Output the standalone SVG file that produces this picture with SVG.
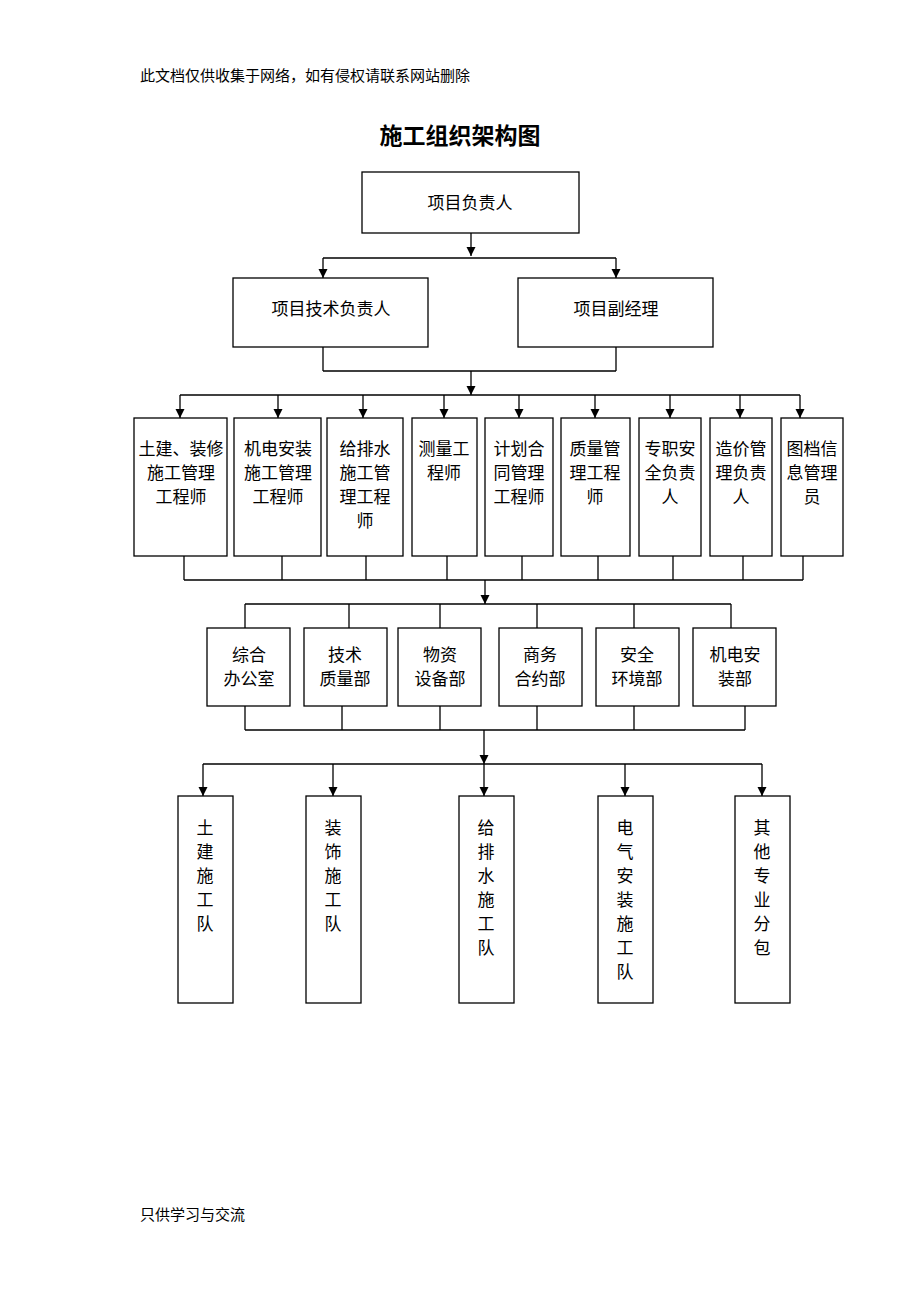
<svg xmlns="http://www.w3.org/2000/svg" width="920" height="1302" viewBox="0 0 920 1302">
<style>
text{font-family:"Liberation Serif","Noto Sans CJK SC",serif;font-size:17px;fill:#000;text-anchor:middle}
.b{fill:#fff;stroke:#000;stroke-width:1.3}
.bt{fill:none;stroke:#000;stroke-width:1.3}
.l{fill:none;stroke:#000;stroke-width:1.3}
</style>
<defs>
<marker id="d" viewBox="0 0 10 10" markerWidth="9" markerHeight="10" refX="10" refY="5" orient="auto" markerUnits="userSpaceOnUse"><path d="M0,0 L10,5 L0,10 z" fill="#000"/></marker></defs>
<rect width="920" height="1302" fill="#fff"/>
<text x="140" y="81" style="text-anchor:start;font-size:15px">此文档仅供收集于网络，如有侵权请联系网站删除</text>
<text x="460" y="144" style="font-size:23px;font-weight:bold">施工组织架构图</text>
<g id="connectors" class="l">
<path d="M471,233V256" marker-end="url(#d)"/>
<path d="M323,258H616"/><path d="M323,258V278" marker-end="url(#d)"/><path d="M616,258V278" marker-end="url(#d)"/>
<path d="M323,347V371M616,347V371M323,371H616"/><path d="M471,371V395" marker-end="url(#d)"/>
<path d="M180,395H800"/>
<path d="M180,395V418" marker-end="url(#d)"/><path d="M278,395V418" marker-end="url(#d)"/><path d="M363,395V418" marker-end="url(#d)"/><path d="M444,395V418" marker-end="url(#d)"/><path d="M519,395V418" marker-end="url(#d)"/><path d="M595,395V418" marker-end="url(#d)"/><path d="M670,395V418" marker-end="url(#d)"/><path d="M740,395V418" marker-end="url(#d)"/><path d="M800,395V418" marker-end="url(#d)"/>
<path d="M184,556V580M282,556V580M366,556V580M447,556V580M522,556V580M598,556V580M673,556V580M743,556V580M803,556V580M184,580H803"/>
<path d="M485,580V604" marker-end="url(#d)"/>
<path d="M245,604H731M245,604V628M349,604V628M440,604V628M537,604V628M634,604V628M731,604V628"/>
<path d="M245,706V730M342,706V730M440,706V730M537,706V730M634,706V730M745,706V730M245,730H745"/>
<path d="M484,730V764" marker-end="url(#d)"/>
<path d="M203,764H762"/>
<path d="M203,764V796" marker-end="url(#d)"/><path d="M333,764V796" marker-end="url(#d)"/><path d="M484,764V796" marker-end="url(#d)"/><path d="M625,764V796" marker-end="url(#d)"/><path d="M762,764V796" marker-end="url(#d)"/>
</g>
<g id="n1"><rect class="b" x="362" y="172" width="217" height="61"/><text x="470" y="209">项目负责人</text></g>
<g id="n2"><rect class="b" x="233" y="278" width="195" height="69"/><text x="331" y="315">项目技术负责人</text></g>
<g id="n3"><rect class="b" x="518" y="278" width="195" height="69"/><text x="616" y="315">项目副经理</text></g>
<g id="r1"><rect class="b" x="134" y="418" width="93" height="138"/><text x="181" y="455">土建、装修</text><text x="181" y="479">施工管理</text><text x="181" y="503">工程师</text></g>
<g id="r2"><rect class="b" x="234" y="418" width="87" height="138"/><text x="278" y="455">机电安装</text><text x="278" y="479">施工管理</text><text x="278" y="503">工程师</text></g>
<g id="r3"><rect class="b" x="327" y="418" width="76" height="138"/><text x="365" y="455">给排水</text><text x="365" y="479">施工管</text><text x="365" y="503">理工程</text><text x="365" y="527">师</text></g>
<g id="r4"><rect class="b" x="412" y="418" width="65" height="138"/><text x="444" y="455">测量工</text><text x="444" y="479">程师</text></g>
<g id="r5"><rect class="b" x="485" y="418" width="68" height="138"/><text x="519" y="455">计划合</text><text x="519" y="479">同管理</text><text x="519" y="503">工程师</text></g>
<g id="r6"><rect class="b" x="561" y="418" width="69" height="138"/><text x="595" y="455">质量管</text><text x="595" y="479">理工程</text><text x="595" y="503">师</text></g>
<g id="r7"><rect class="b" x="639" y="418" width="62" height="138"/><text x="670" y="455">专职安</text><text x="670" y="479">全负责</text><text x="670" y="503">人</text></g>
<g id="r8"><rect class="b" x="710" y="418" width="62" height="138"/><text x="741" y="455">造价管</text><text x="741" y="479">理负责</text><text x="741" y="503">人</text></g>
<g id="r9"><rect class="b" x="781" y="418" width="62" height="138"/><text x="812" y="455">图档信</text><text x="812" y="479">息管理</text><text x="812" y="503">员</text></g>
<g id="d1"><rect class="b" x="207" y="628" width="83" height="78"/><text x="249" y="661">综合</text><text x="249" y="685">办公室</text></g>
<g id="d2"><rect class="b" x="304" y="628" width="83" height="78"/><text x="345" y="661">技术</text><text x="345" y="685">质量部</text></g>
<g id="d3"><rect class="b" x="398" y="628" width="83" height="78"/><text x="440" y="661">物资</text><text x="440" y="685">设备部</text></g>
<g id="d4"><rect class="b" x="499" y="628" width="83" height="78"/><text x="540" y="661">商务</text><text x="540" y="685">合约部</text></g>
<g id="d5"><rect class="b" x="596" y="628" width="83" height="78"/><text x="637" y="661">安全</text><text x="637" y="685">环境部</text></g>
<g id="d6"><rect class="b" x="693" y="628" width="83" height="78"/><text x="735" y="661">机电安</text><text x="735" y="685">装部</text></g>
<g id="t1"><rect class="b" x="178" y="796" width="55" height="207"/><text x="205" y="834">土</text><text x="205" y="858">建</text><text x="205" y="882">施</text><text x="205" y="906">工</text><text x="205" y="930">队</text></g>
<g id="t2"><rect class="b" x="306" y="796" width="55" height="207"/><text x="333" y="834">装</text><text x="333" y="858">饰</text><text x="333" y="882">施</text><text x="333" y="906">工</text><text x="333" y="930">队</text></g>
<g id="t3"><rect class="b" x="459" y="796" width="55" height="207"/><text x="486" y="834">给</text><text x="486" y="858">排</text><text x="486" y="882">水</text><text x="486" y="906">施</text><text x="486" y="930">工</text><text x="486" y="954">队</text></g>
<g id="t4"><rect class="b" x="598" y="796" width="55" height="207"/><text x="625" y="834">电</text><text x="625" y="858">气</text><text x="625" y="882">安</text><text x="625" y="906">装</text><text x="625" y="930">施</text><text x="625" y="954">工</text><text x="625" y="978">队</text></g>
<g id="t5"><rect class="b" x="735" y="796" width="55" height="207"/><text x="762" y="834">其</text><text x="762" y="858">他</text><text x="762" y="882">专</text><text x="762" y="906">业</text><text x="762" y="930">分</text><text x="762" y="954">包</text></g>
<text x="140" y="1220" style="text-anchor:start;font-size:15px">只供学习与交流</text>
</svg>
